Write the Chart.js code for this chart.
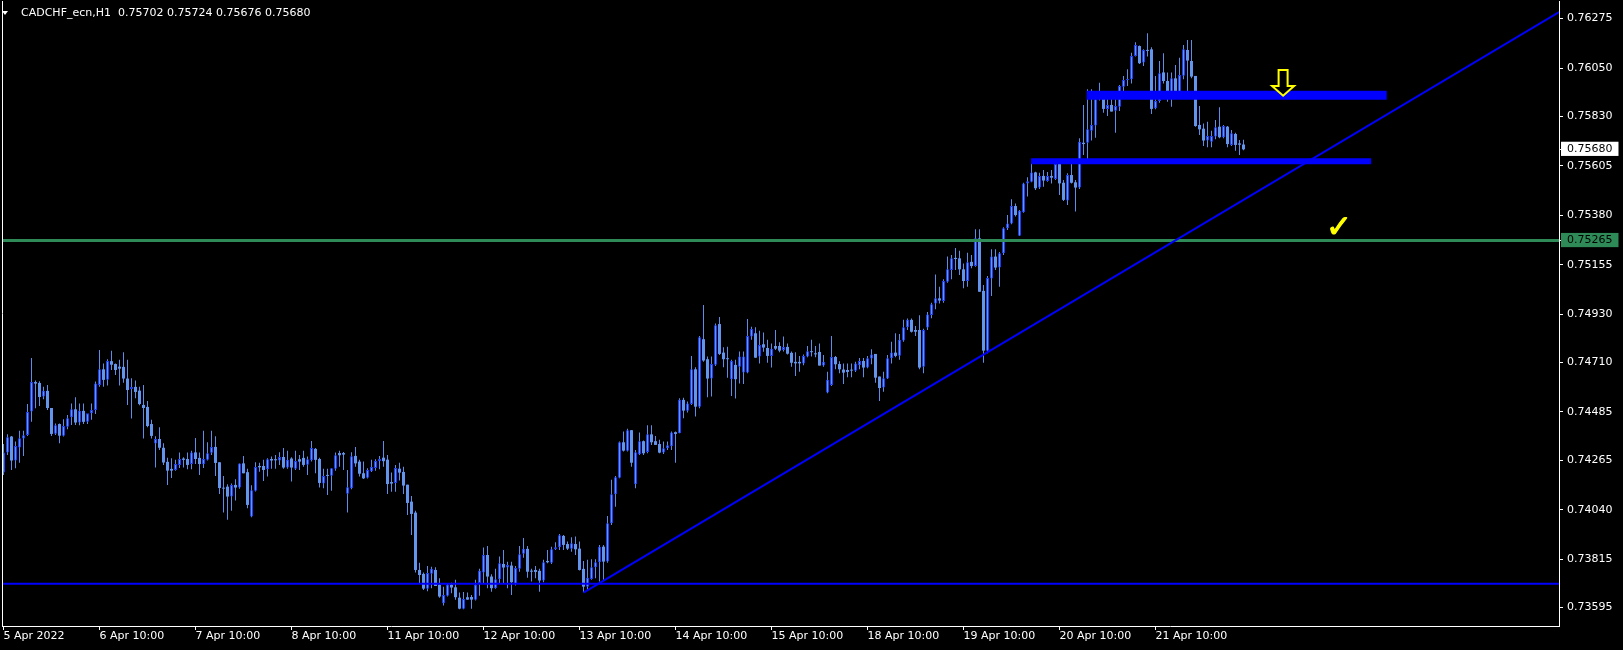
<!DOCTYPE html>
<html>
<head>
<meta charset="utf-8">
<title>CADCHF_ecn,H1</title>
<script src="https://cdn.jsdelivr.net/npm/chart.js@4.4.1/dist/chart.umd.min.js"></script>
<style>
  html, body { margin: 0; padding: 0; background: #000; overflow: hidden; }
  #wrap { position: relative; width: 1623px; height: 650px; }
  #priceChart { display: block; background: #000; }
  #header { position: absolute; left: 21px; top: 6px; color: #fff; font: 11px "DejaVu Sans", sans-serif; line-height: 13px; white-space: pre; }
  #header .tri { position: absolute; left: -19px; top: 5px; width: 0; height: 0; border-left: 3px solid transparent; border-right: 3px solid transparent; border-top: 4px solid #fff; }
</style>
</head>
<body>
<div id="wrap">
  <canvas id="priceChart" width="1623" height="650"></canvas>
  <div id="header"><span class="tri"></span>CADCHF_ecn,H1  0.75702 0.75724 0.75676 0.75680</div>
</div>
<script>
// H1 candles, 5 Apr 10:00 .. 22 Apr 07:00 (bar index = position)
const opens = [
  0.74209, 0.74300, 0.74373, 0.74264, 0.74323, 0.74364, 0.74380, 0.74487, 0.74621, 0.74617,
  0.74555, 0.74581, 0.74503, 0.74386, 0.74430, 0.74377, 0.74418, 0.74461, 0.74497, 0.74437,
  0.74490, 0.74440, 0.74479, 0.74494, 0.74608, 0.74679, 0.74631, 0.74716, 0.74703, 0.74691,
  0.74690, 0.74637, 0.74590, 0.74599, 0.74582, 0.74517, 0.74508, 0.74430, 0.74341, 0.74362,
  0.74322, 0.74258, 0.74226, 0.74221, 0.74244, 0.74273, 0.74271, 0.74248, 0.74301, 0.74276,
  0.74247, 0.74268, 0.74299, 0.74326, 0.74256, 0.74139, 0.74145, 0.74100, 0.74153, 0.74141,
  0.74251, 0.74211, 0.74009, 0.74127, 0.74239, 0.74239, 0.74224, 0.74271, 0.74270, 0.74264,
  0.74280, 0.74232, 0.74273, 0.74227, 0.74270, 0.74276, 0.74245, 0.74265, 0.74317, 0.74271,
  0.74159, 0.74198, 0.74195, 0.74226, 0.74298, 0.74298, 0.74113, 0.74138, 0.74285, 0.74259,
  0.74206, 0.74186, 0.74215, 0.74230, 0.74261, 0.74277, 0.74268, 0.74166, 0.74162, 0.74227,
  0.74212, 0.74154, 0.74077, 0.74027, 0.73766, 0.73748, 0.73681, 0.73749, 0.73766, 0.73699,
  0.73614, 0.73649, 0.73699, 0.73687, 0.73640, 0.73590, 0.73642, 0.73643, 0.73630, 0.73707,
  0.73754, 0.73834, 0.73736, 0.73683, 0.73724, 0.73793, 0.73777, 0.73786, 0.73702, 0.73772,
  0.73840, 0.73862, 0.73763, 0.73766, 0.73762, 0.73718, 0.73807, 0.73799, 0.73860, 0.73869,
  0.73921, 0.73884, 0.73863, 0.73884, 0.73863, 0.73771, 0.73690, 0.73725, 0.73778, 0.73801,
  0.73872, 0.73804, 0.73978, 0.74110, 0.74186, 0.74347, 0.74309, 0.74402, 0.74156, 0.74292,
  0.74352, 0.74303, 0.74383, 0.74352, 0.74339, 0.74300, 0.74320, 0.74329, 0.74393, 0.74388,
  0.74540, 0.74491, 0.74521, 0.74679, 0.74509, 0.74816, 0.74725, 0.74637, 0.74700, 0.74885,
  0.74755, 0.74729, 0.74634, 0.74699, 0.74691, 0.74664, 0.74664, 0.74828, 0.74843, 0.74737,
  0.74793, 0.74776, 0.74740, 0.74785, 0.74785, 0.74767, 0.74781, 0.74754, 0.74713, 0.74713,
  0.74706, 0.74737, 0.74760, 0.74752, 0.74758, 0.74696, 0.74573, 0.74608, 0.74735, 0.74703,
  0.74678, 0.74676, 0.74676, 0.74673, 0.74697, 0.74717, 0.74687, 0.74728, 0.74749, 0.74646,
  0.74596, 0.74637, 0.74729, 0.74755, 0.74741, 0.74810, 0.74870, 0.74904, 0.74858, 0.74858,
  0.74691, 0.74869, 0.74926, 0.74979, 0.75002, 0.74990, 0.75078, 0.75131, 0.75186, 0.75184,
  0.75134, 0.75081, 0.75168, 0.75149, 0.75275, 0.75036, 0.74764, 0.75092, 0.75192, 0.75142,
  0.75207, 0.75321, 0.75343, 0.75422, 0.75287, 0.75394, 0.75525, 0.75533, 0.75575, 0.75506,
  0.75559, 0.75536, 0.75559, 0.75545, 0.75613, 0.75528, 0.75447, 0.75563, 0.75530, 0.75506,
  0.75710, 0.75710, 0.75765, 0.75788, 0.75908, 0.75923, 0.75864, 0.75882, 0.75856, 0.75874,
  0.75965, 0.75996, 0.75999, 0.76105, 0.76150, 0.76075, 0.76132, 0.76135, 0.75867, 0.75900,
  0.76030, 0.75991, 0.75915, 0.76003, 0.75938, 0.76015, 0.76132, 0.76082, 0.76014, 0.75791,
  0.75774, 0.75720, 0.75715, 0.75738, 0.75783, 0.75735, 0.75783, 0.75700, 0.75750, 0.75707,
  0.75702
];
const highs = [
  0.74339, 0.74383, 0.74376, 0.74350, 0.74400, 0.74400, 0.74521, 0.74731, 0.74628, 0.74625,
  0.74600, 0.74608, 0.74503, 0.74433, 0.74433, 0.74452, 0.74471, 0.74524, 0.74552, 0.74524,
  0.74524, 0.74471, 0.74524, 0.74624, 0.74767, 0.74706, 0.74725, 0.74763, 0.74706, 0.74722,
  0.74757, 0.74722, 0.74638, 0.74628, 0.74600, 0.74608, 0.74535, 0.74449, 0.74374, 0.74415,
  0.74343, 0.74277, 0.74274, 0.74267, 0.74301, 0.74279, 0.74301, 0.74309, 0.74367, 0.74301,
  0.74399, 0.74347, 0.74399, 0.74374, 0.74256, 0.74194, 0.74156, 0.74160, 0.74179, 0.74251,
  0.74285, 0.74227, 0.74151, 0.74256, 0.74254, 0.74267, 0.74274, 0.74282, 0.74289, 0.74302,
  0.74321, 0.74308, 0.74279, 0.74308, 0.74289, 0.74308, 0.74282, 0.74353, 0.74321, 0.74277,
  0.74226, 0.74226, 0.74229, 0.74300, 0.74309, 0.74303, 0.74221, 0.74302, 0.74326, 0.74267,
  0.74259, 0.74229, 0.74267, 0.74270, 0.74285, 0.74353, 0.74289, 0.74209, 0.74244, 0.74254,
  0.74236, 0.74154, 0.74103, 0.74036, 0.73799, 0.73755, 0.73784, 0.73781, 0.73778, 0.73728,
  0.73690, 0.73702, 0.73708, 0.73721, 0.73663, 0.73666, 0.73663, 0.73652, 0.73721, 0.73771,
  0.73868, 0.73875, 0.73746, 0.73771, 0.73827, 0.73857, 0.73803, 0.73803, 0.73784, 0.73875,
  0.73912, 0.73875, 0.73771, 0.73784, 0.73771, 0.73812, 0.73857, 0.73872, 0.73892, 0.73930,
  0.73925, 0.73895, 0.73915, 0.73918, 0.73895, 0.73807, 0.73812, 0.73815, 0.73815, 0.73880,
  0.73880, 0.74012, 0.74176, 0.74194, 0.74350, 0.74396, 0.74408, 0.74403, 0.74312, 0.74391,
  0.74355, 0.74424, 0.74424, 0.74376, 0.74358, 0.74350, 0.74350, 0.74396, 0.74396, 0.74547,
  0.74550, 0.74532, 0.74740, 0.74688, 0.74831, 0.74972, 0.74737, 0.74737, 0.74888, 0.74917,
  0.74779, 0.74782, 0.74722, 0.74722, 0.74760, 0.74760, 0.74908, 0.74873, 0.74870, 0.74855,
  0.74846, 0.74813, 0.74797, 0.74858, 0.74802, 0.74828, 0.74797, 0.74760, 0.74757, 0.74740,
  0.74746, 0.74785, 0.74813, 0.74785, 0.74797, 0.74744, 0.74668, 0.74831, 0.74740, 0.74716,
  0.74706, 0.74706, 0.74706, 0.74714, 0.74731, 0.74731, 0.74740, 0.74770, 0.74749, 0.74646,
  0.74668, 0.74744, 0.74805, 0.74843, 0.74840, 0.74904, 0.74910, 0.74910, 0.74876, 0.74925,
  0.74864, 0.74940, 0.74982, 0.75111, 0.75055, 0.75089, 0.75192, 0.75199, 0.75231, 0.75218,
  0.75161, 0.75210, 0.75199, 0.75316, 0.75316, 0.75063, 0.75104, 0.75225, 0.75225, 0.75213,
  0.75325, 0.75381, 0.75453, 0.75434, 0.75404, 0.75528, 0.75553, 0.75616, 0.75578, 0.75574,
  0.75586, 0.75577, 0.75586, 0.75629, 0.75616, 0.75541, 0.75571, 0.75619, 0.75541, 0.75730,
  0.75882, 0.75953, 0.75953, 0.75943, 0.75983, 0.75935, 0.75912, 0.75912, 0.75908, 0.75973,
  0.76014, 0.76044, 0.76120, 0.76167, 0.76153, 0.76135, 0.76208, 0.76144, 0.76014, 0.76082,
  0.76117, 0.76030, 0.76030, 0.76064, 0.76097, 0.76155, 0.76178, 0.76178, 0.76014, 0.75877,
  0.75798, 0.75806, 0.75765, 0.75814, 0.75871, 0.75791, 0.75786, 0.75768, 0.75756, 0.75723,
  0.75724
];
const lows = [
  0.74198, 0.74289, 0.74221, 0.74229, 0.74254, 0.74285, 0.74376, 0.74440, 0.74502, 0.74512,
  0.74543, 0.74494, 0.74376, 0.74380, 0.74343, 0.74373, 0.74406, 0.74426, 0.74426, 0.74424,
  0.74430, 0.74430, 0.74449, 0.74476, 0.74600, 0.74600, 0.74605, 0.74676, 0.74653, 0.74605,
  0.74618, 0.74517, 0.74455, 0.74547, 0.74515, 0.74364, 0.74415, 0.74364, 0.74232, 0.74312,
  0.74244, 0.74153, 0.74185, 0.74218, 0.74230, 0.74232, 0.74224, 0.74224, 0.74248, 0.74198,
  0.74230, 0.74264, 0.74289, 0.74194, 0.74112, 0.74027, 0.73994, 0.74036, 0.74082, 0.74136,
  0.74206, 0.74047, 0.74006, 0.74123, 0.74213, 0.74171, 0.74191, 0.74226, 0.74226, 0.74244,
  0.74226, 0.74226, 0.74168, 0.74221, 0.74221, 0.74236, 0.74198, 0.74259, 0.74206, 0.74141,
  0.74138, 0.74107, 0.74127, 0.74218, 0.74236, 0.74221, 0.74027, 0.74133, 0.74236, 0.74191,
  0.74180, 0.74182, 0.74212, 0.74218, 0.74224, 0.74236, 0.74112, 0.74122, 0.74122, 0.74173,
  0.74112, 0.74016, 0.73925, 0.73754, 0.73702, 0.73675, 0.73669, 0.73683, 0.73693, 0.73640,
  0.73604, 0.73645, 0.73660, 0.73630, 0.73587, 0.73587, 0.73630, 0.73590, 0.73627, 0.73649,
  0.73707, 0.73683, 0.73667, 0.73680, 0.73702, 0.73702, 0.73683, 0.73652, 0.73695, 0.73758,
  0.73822, 0.73731, 0.73713, 0.73728, 0.73667, 0.73710, 0.73796, 0.73793, 0.73857, 0.73857,
  0.73857, 0.73857, 0.73849, 0.73834, 0.73763, 0.73665, 0.73675, 0.73721, 0.73728, 0.73713,
  0.73721, 0.73799, 0.73971, 0.74054, 0.74183, 0.74305, 0.74305, 0.74236, 0.74138, 0.74289,
  0.74289, 0.74297, 0.74335, 0.74335, 0.74297, 0.74294, 0.74312, 0.74312, 0.74254, 0.74388,
  0.74456, 0.74482, 0.74517, 0.74464, 0.74502, 0.74714, 0.74552, 0.74555, 0.74694, 0.74744,
  0.74688, 0.74641, 0.74558, 0.74546, 0.74615, 0.74612, 0.74661, 0.74813, 0.74732, 0.74706,
  0.74759, 0.74709, 0.74687, 0.74767, 0.74757, 0.74760, 0.74746, 0.74691, 0.74649, 0.74668,
  0.74697, 0.74734, 0.74737, 0.74734, 0.74696, 0.74691, 0.74570, 0.74603, 0.74679, 0.74661,
  0.74612, 0.74643, 0.74643, 0.74667, 0.74679, 0.74643, 0.74684, 0.74702, 0.74618, 0.74535,
  0.74577, 0.74635, 0.74706, 0.74734, 0.74722, 0.74805, 0.74858, 0.74847, 0.74831, 0.74679,
  0.74661, 0.74858, 0.74911, 0.74952, 0.74979, 0.74982, 0.75073, 0.75089, 0.75131, 0.75108,
  0.75048, 0.75055, 0.75139, 0.75146, 0.75032, 0.74709, 0.74752, 0.75013, 0.75131, 0.75055,
  0.75199, 0.75313, 0.75339, 0.75374, 0.75286, 0.75391, 0.75465, 0.75530, 0.75495, 0.75500,
  0.75510, 0.75533, 0.75525, 0.75541, 0.75472, 0.75445, 0.75427, 0.75525, 0.75397, 0.75500,
  0.75654, 0.75616, 0.75720, 0.75733, 0.75902, 0.75847, 0.75832, 0.75852, 0.75756, 0.75855,
  0.75935, 0.75968, 0.75980, 0.76102, 0.76068, 0.76059, 0.76102, 0.75841, 0.75862, 0.75892,
  0.75980, 0.75897, 0.75874, 0.75932, 0.75932, 0.75999, 0.75943, 0.76003, 0.75783, 0.75745,
  0.75695, 0.75689, 0.75689, 0.75726, 0.75730, 0.75730, 0.75689, 0.75695, 0.75674, 0.75654,
  0.75676
];
const closes = [
  0.74300, 0.74370, 0.74264, 0.74330, 0.74365, 0.74379, 0.74485, 0.74621, 0.74614, 0.74553,
  0.74581, 0.74503, 0.74385, 0.74424, 0.74377, 0.74421, 0.74456, 0.74497, 0.74437, 0.74490,
  0.74440, 0.74479, 0.74494, 0.74615, 0.74679, 0.74631, 0.74717, 0.74700, 0.74676, 0.74682,
  0.74637, 0.74585, 0.74599, 0.74576, 0.74521, 0.74503, 0.74421, 0.74376, 0.74362, 0.74322,
  0.74255, 0.74218, 0.74218, 0.74248, 0.74271, 0.74267, 0.74244, 0.74301, 0.74271, 0.74248,
  0.74271, 0.74297, 0.74326, 0.74253, 0.74139, 0.74136, 0.74100, 0.74153, 0.74141, 0.74251,
  0.74206, 0.74062, 0.74129, 0.74235, 0.74233, 0.74221, 0.74270, 0.74264, 0.74265, 0.74280,
  0.74232, 0.74267, 0.74232, 0.74262, 0.74259, 0.74244, 0.74270, 0.74321, 0.74267, 0.74162,
  0.74194, 0.74194, 0.74229, 0.74288, 0.74288, 0.74291, 0.74142, 0.74283, 0.74251, 0.74204,
  0.74183, 0.74221, 0.74235, 0.74262, 0.74271, 0.74261, 0.74157, 0.74159, 0.74230, 0.74209,
  0.74150, 0.74071, 0.74021, 0.73766, 0.73743, 0.73681, 0.73752, 0.73771, 0.73693, 0.73645,
  0.73652, 0.73699, 0.73686, 0.73642, 0.73590, 0.73634, 0.73631, 0.73631, 0.73699, 0.73762,
  0.73834, 0.73736, 0.73683, 0.73724, 0.73796, 0.73777, 0.73789, 0.73710, 0.73775, 0.73837,
  0.73862, 0.73758, 0.73758, 0.73757, 0.73718, 0.73801, 0.73801, 0.73860, 0.73869, 0.73924,
  0.73880, 0.73863, 0.73887, 0.73860, 0.73766, 0.73690, 0.73731, 0.73778, 0.73801, 0.73872,
  0.73804, 0.73978, 0.74110, 0.74188, 0.74347, 0.74309, 0.74402, 0.74254, 0.74302, 0.74352,
  0.74297, 0.74383, 0.74347, 0.74335, 0.74300, 0.74320, 0.74333, 0.74391, 0.74385, 0.74540,
  0.74491, 0.74524, 0.74679, 0.74509, 0.74825, 0.74719, 0.74637, 0.74703, 0.74879, 0.74749,
  0.74725, 0.74725, 0.74717, 0.74634, 0.74737, 0.74737, 0.74831, 0.74863, 0.74732, 0.74790,
  0.74778, 0.74740, 0.74773, 0.74773, 0.74764, 0.74781, 0.74750, 0.74709, 0.74706, 0.74706,
  0.74740, 0.74761, 0.74757, 0.74747, 0.74696, 0.74713, 0.74631, 0.74735, 0.74702, 0.74679,
  0.74664, 0.74667, 0.74673, 0.74706, 0.74717, 0.74687, 0.74729, 0.74747, 0.74641, 0.74594,
  0.74638, 0.74729, 0.74755, 0.74740, 0.74813, 0.74870, 0.74904, 0.74850, 0.74850, 0.74687,
  0.74858, 0.74929, 0.74975, 0.75002, 0.74992, 0.75081, 0.75134, 0.75184, 0.75181, 0.75134,
  0.75081, 0.75166, 0.75149, 0.75275, 0.75032, 0.74764, 0.75095, 0.75192, 0.75142, 0.75207,
  0.75321, 0.75343, 0.75422, 0.75381, 0.75400, 0.75525, 0.75535, 0.75575, 0.75503, 0.75559,
  0.75538, 0.75559, 0.75551, 0.75613, 0.75525, 0.75450, 0.75563, 0.75528, 0.75506, 0.75715,
  0.75704, 0.75771, 0.75791, 0.75908, 0.75923, 0.75864, 0.75882, 0.75852, 0.75877, 0.75968,
  0.75996, 0.75999, 0.76105, 0.76155, 0.76072, 0.76132, 0.76128, 0.75864, 0.75900, 0.76026,
  0.75991, 0.75912, 0.76003, 0.75938, 0.76018, 0.76135, 0.76084, 0.76011, 0.75786, 0.75771,
  0.75720, 0.75741, 0.75741, 0.75780, 0.75735, 0.75786, 0.75704, 0.75753, 0.75700, 0.75701,
  0.75680
];

const xTickBars = [0, 24, 48, 72, 96, 120, 144, 168, 192, 216, 240, 264, 288];
const xTickLabels = ["5 Apr 2022", "6 Apr 10:00", "7 Apr 10:00", "8 Apr 10:00", "11 Apr 10:00",
  "12 Apr 10:00", "13 Apr 10:00", "14 Apr 10:00", "15 Apr 10:00", "18 Apr 10:00",
  "19 Apr 10:00", "20 Apr 10:00", "21 Apr 10:00"];
const yTicks = [0.76275, 0.76050, 0.75830, 0.75605, 0.75380, 0.75155, 0.74930,
  0.74710, 0.74485, 0.74265, 0.74040, 0.73815, 0.73595];

// drawn objects on the chart
const levelLine = 0.75265;      // green horizontal
const supportLine = 0.73703;    // blue horizontal
const bidPrice = 0.75680;
const trendFrom = [145, 0.73663];
const trendTo = [389, 0.76306];
const upperZone = [270.8, 345.8, 0.75926];
const lowerZone = [256.9, 341.9, 0.75626];

document.addEventListener("DOMContentLoaded", function () {
  const upBody = "#6495ED";
  const upEdge = "#1d3df0";
  const wickColor = "#5b8ee6";
  const font = { family: "DejaVu Sans", size: 11 };

  const isUp = opens.map((o, i) => closes[i] > o);

  function hLine(x0, x1, v, color, width, order) {
    return {
      type: "line",
      data: [{ x: x0, y: v }, { x: x1, y: v }],
      borderColor: color,
      borderWidth: width,
      borderCapStyle: "butt",
      pointRadius: 0,
      clip: 0,
      order: order,
    };
  }

  // frame line, arrow and tick mark
  const decor = {
    id: "decor",
    afterDatasetsDraw(chart) {
      const { ctx, chartArea: a } = chart;
      const x = chart.scales.x, y = chart.scales.y;
      ctx.save();
      ctx.strokeStyle = "#fff";
      ctx.lineWidth = 1;
      ctx.beginPath();
      ctx.moveTo(a.left + 0.5, a.top);
      ctx.lineTo(a.left + 0.5, a.bottom);
      ctx.stroke();

      // hollow down arrow above the upper zone
      const cx = x.getPixelForValue(319.9);
      const top = y.getPixelForValue(0.76041);
      const tip = y.getPixelForValue(0.75924);
      const hs = top + (tip - top) * 0.62;
      ctx.beginPath();
      ctx.moveTo(cx - 4.5, top);
      ctx.lineTo(cx + 4.5, top);
      ctx.lineTo(cx + 4.5, hs);
      ctx.lineTo(cx + 11, hs);
      ctx.lineTo(cx, tip);
      ctx.lineTo(cx - 11, hs);
      ctx.lineTo(cx - 4.5, hs);
      ctx.closePath();
      ctx.fillStyle = "#000";
      ctx.fill();
      ctx.strokeStyle = "#ffff00";
      ctx.lineWidth = 2;
      ctx.stroke();

      // check mark on the green level
      const kx = x.getPixelForValue(333.9), ky = y.getPixelForValue(0.75317);
      ctx.fillStyle = "#ffff00";
      ctx.strokeStyle = "#ffff00";
      ctx.lineWidth = 1;
      ctx.font = "31px 'DejaVu Sans'";
      ctx.textAlign = "center";
      ctx.textBaseline = "middle";
      ctx.fillText("\u2713", kx, ky);
      ctx.strokeText("\u2713", kx, ky);
      ctx.restore();
    },
  };

  const marked = [bidPrice, levelLine];

  new Chart(document.getElementById("priceChart"), {
    type: "bar",
    data: {
      datasets: [
        {
          data: lows.map((l, i) => ({ x: i, y: [l, highs[i]] })),
          backgroundColor: wickColor,
          barThickness: 1,
          grouped: false,
          inflateAmount: 0,
          borderWidth: 0,
          order: 5,
        },
        {
          data: opens.map((o, i) => ({ x: i, y: [o, closes[i]] })),
          backgroundColor: upBody,
          borderColor: isUp.map((u) => (u ? upEdge : upBody)),
          borderWidth: isUp.map((u) => (u ? 1 : 0)),
          borderSkipped: false,
          barThickness: 3,
          minBarLength: 1,
          grouped: false,
          inflateAmount: 0,
          order: 4,
        },
        hLine(-1, 390, supportLine, "#0000ff", 2, 3),
        hLine(-1, 390, levelLine, "#2e8b57", 3, 2),
        hLine(upperZone[0], upperZone[1], upperZone[2], "#0000ff", 9, 1),
        hLine(lowerZone[0], lowerZone[1], lowerZone[2], "#0000ff", 6, 1),
        {
          type: "line",
          data: [{ x: trendFrom[0], y: trendFrom[1] }, { x: trendTo[0], y: trendTo[1] }],
          borderColor: "#0000ff",
          borderWidth: 2,
          pointRadius: 0,
          clip: 0,
          order: 0,
        },
      ],
    },
    options: {
      responsive: false,
      devicePixelRatio: 1,
      animation: false,
      events: [],
      layout: { padding: { left: 2, top: 1, right: 0, bottom: 0 } },
      plugins: { legend: { display: false }, tooltip: { enabled: false } },
      scales: {
        x: {
          type: "linear",
          min: -0.375,
          max: 388.875,
          offset: false,
          afterBuildTicks: (axis) => { axis.ticks = xTickBars.map((v) => ({ value: v })); },
          afterFit: (axis) => {
            axis.height = 24;
            axis.paddingLeft = 0;
            axis.paddingRight = 0;
          },
          ticks: {
            autoSkip: false,
            maxRotation: 0,
            align: "start",
            padding: 0,
            color: "#fff",
            font: font,
            callback: (v, i) => xTickLabels[i],
          },
          grid: { drawOnChartArea: false, color: "#fff", tickLength: 4, offset: false },
          border: { color: "#fff", width: 1 },
        },
        y: {
          position: "right",
          min: 0.73511,
          max: 0.76355,
          beginAtZero: false,
          afterBuildTicks: (axis) => {
            axis.ticks = yTicks.concat(marked).map((v) => ({ value: v }));
          },
          afterFit: (axis) => {
            axis.width = 64;
            axis.paddingTop = 0;
            axis.paddingBottom = 0;
          },
          ticks: {
            autoSkip: false,
            padding: 4,
            font: font,
            color: (c) => (c.tick && marked.includes(c.tick.value) ? "#000" : "#fff"),
            showLabelBackdrop: (c) => !!(c.tick && marked.includes(c.tick.value)),
            backdropColor: (c) => (c.tick && c.tick.value === levelLine ? "#2e8b57" : "#fff"),
            backdropPadding: { left: 6, right: 6, top: 1, bottom: 0 },
            callback: (v) => v.toFixed(5),
          },
          grid: { drawOnChartArea: false, color: "#fff", tickLength: 4 },
          border: { color: "#fff", width: 1 },
        },
      },
    },
    plugins: [decor],
  });
});
</script>
</body>
</html>
